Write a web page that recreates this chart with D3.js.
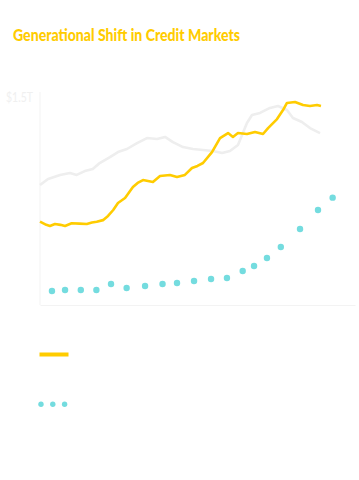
<!DOCTYPE html>
<html>
<head>
<meta charset="utf-8">
<script src="https://cdn.jsdelivr.net/npm/d3@7"></script>
<style>
  html, body { margin: 0; padding: 0; background: #ffffff; }
  svg { display: block; }
</style>
</head>
<body>
<svg id="chart" width="359" height="480"></svg>
<script>
// ---- data ----
const title = "Generational Shift in Credit Markets";
const yTickValues = [1.5];
const yTickLabels = ["$1.5T"];

// yellow line (time in decimal years, value in $T)
const goldX = [2003.00, 2003.40, 2003.63, 2003.95, 2004.30, 2004.59, 2005.01, 2005.50, 2005.97, 2006.30, 2006.60, 2007.00, 2007.32, 2007.65, 2007.95, 2008.40, 2008.90, 2009.20, 2009.54, 2010.17, 2010.62, 2011.25, 2011.70, 2012.20, 2012.65, 2013.00, 2013.35, 2013.92, 2014.43, 2014.94, 2015.25, 2015.57, 2016.14, 2016.65, 2017.16, 2017.48, 2018.05, 2018.43, 2018.68, 2019.19, 2019.70, 2020.14, 2020.59, 2020.84];
const goldY = [0.601, 0.578, 0.570, 0.584, 0.578, 0.570, 0.589, 0.587, 0.584, 0.595, 0.601, 0.612, 0.642, 0.685, 0.736, 0.772, 0.851, 0.880, 0.901, 0.887, 0.930, 0.938, 0.923, 0.938, 0.988, 1.003, 1.024, 1.103, 1.204, 1.240, 1.212, 1.240, 1.233, 1.248, 1.233, 1.276, 1.341, 1.406, 1.457, 1.464, 1.442, 1.435, 1.442, 1.435];

// light grey line
const greyX = [2003.00, 2003.51, 2004.27, 2004.90, 2005.33, 2005.84, 2006.35, 2006.79, 2007.44, 2007.95, 2008.52, 2009.16, 2009.79, 2010.43, 2010.94, 2011.44, 2012.08, 2012.71, 2013.35, 2013.98, 2014.56, 2015.06, 2015.57, 2016.14, 2016.46, 2016.97, 2017.60, 2018.11, 2018.68, 2019.06, 2019.63, 2020.14, 2020.78];
const greyY = [0.865, 0.909, 0.938, 0.952, 0.938, 0.966, 0.981, 1.024, 1.067, 1.103, 1.125, 1.168, 1.204, 1.197, 1.212, 1.175, 1.139, 1.125, 1.118, 1.111, 1.096, 1.111, 1.154, 1.313, 1.370, 1.385, 1.421, 1.435, 1.406, 1.349, 1.320, 1.276, 1.240];

// turquoise dots
const dotX = [2003.76, 2004.59, 2005.59, 2006.58, 2007.51, 2008.50, 2009.67, 2010.78, 2011.70, 2012.78, 2013.86, 2014.87, 2015.87, 2016.59, 2017.41, 2018.29, 2019.51, 2020.65, 2021.58];
const dotY = [0.101, 0.108, 0.108, 0.108, 0.151, 0.123, 0.137, 0.151, 0.159, 0.173, 0.188, 0.195, 0.245, 0.281, 0.339, 0.418, 0.548, 0.685, 0.774];

const xDomain = [2003, 2023];
const yDomain = [0, 1.5];

// ---- styles ----
const GOLD = "#ffcc00";
const GREY = "#eeeeee";
const TEAL = "#74dcdf";
const AXIS = "#f3f3f3";

const svg = d3.select("#chart");

const x = d3.scaleLinear().domain(xDomain).range([40, 355]);
const y = d3.scaleLinear().domain(yDomain).range([305, 97]);

// title
svg.append("text")
  .attr("x", 13).attr("y", 41)
  .attr("fill", GOLD)
  .attr("font-family", "Lato, 'Open Sans', sans-serif")
  .attr("font-weight", 900)
  .attr("font-size", 17)
  .attr("textLength", 227)
  .attr("lengthAdjust", "spacingAndGlyphs")
  .text(title);

// left axis
const yAxis = d3.axisLeft(y)
  .tickValues(yTickValues)
  .tickFormat((d, i) => yTickLabels[i])
  .tickSize(0)
  .tickPadding(7);
const gy = svg.append("g").attr("transform", "translate(40,0)").call(yAxis);
gy.select(".domain").remove();
gy.selectAll("text")
  .attr("fill", "#f0f0f0")
  .attr("font-family", "Lato, 'Open Sans', sans-serif")
  .attr("font-size", 13)
  .attr("textLength", 27)
  .attr("lengthAdjust", "spacingAndGlyphs")
  .attr("dy", "0.32em");
svg.append("line")
  .attr("x1", 40).attr("x2", 40)
  .attr("y1", y(1.5) - 5).attr("y2", y(0))
  .attr("stroke", AXIS).attr("stroke-width", 1);

// bottom axis
const xAxis = d3.axisBottom(x).tickValues([]).tickSizeOuter(0);
const gx = svg.append("g").attr("transform", `translate(0,${y(0)})`).call(xAxis);
gx.select(".domain").attr("stroke", AXIS).attr("stroke-width", 1);

// lines
const line = d3.line().x(d => x(d[0])).y(d => y(d[1]));
svg.append("path")
  .datum(d3.zip(greyX, greyY))
  .attr("d", line)
  .attr("fill", "none")
  .attr("stroke", GREY)
  .attr("stroke-width", 2.6)
  .attr("stroke-linejoin", "round");
svg.append("path")
  .datum(d3.zip(goldX, goldY))
  .attr("d", line)
  .attr("fill", "none")
  .attr("stroke", GOLD)
  .attr("stroke-width", 2.6)
  .attr("stroke-linejoin", "round");

// dots
svg.append("g").selectAll("circle")
  .data(d3.zip(dotX, dotY))
  .join("circle")
  .attr("cx", d => x(d[0]))
  .attr("cy", d => y(d[1]))
  .attr("r", 3.2)
  .attr("fill", TEAL);

// legend
svg.append("rect")
  .attr("x", 39.5).attr("y", 352.5)
  .attr("width", 29).attr("height", 4)
  .attr("fill", GOLD);
svg.append("g").selectAll("circle")
  .data([0, 1, 2])
  .join("circle")
  .attr("cx", d => 41 + d * 11.8)
  .attr("cy", 404.3)
  .attr("r", 2.7)
  .attr("fill", TEAL);
</script>
</body>
</html>
